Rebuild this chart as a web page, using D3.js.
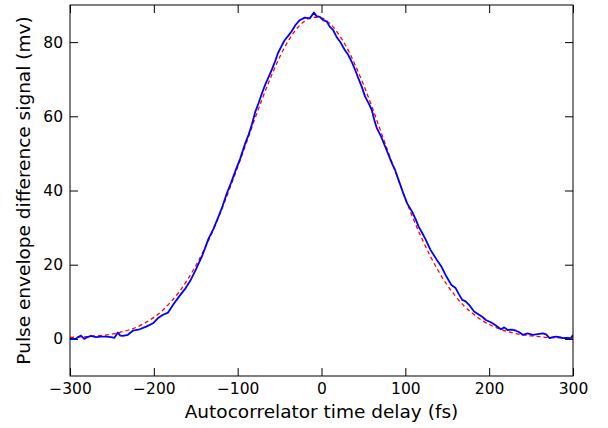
<!DOCTYPE html>
<html>
<head>
<meta charset="utf-8">
<script src="https://cdn.jsdelivr.net/npm/d3@7"></script>
<style>
  body { margin: 0; background: #fff; }
  svg { display: block; font-family: "DejaVu Sans", sans-serif; }
</style>
</head>
<body>
<svg id="chart" width="608" height="428"></svg>
<script>
// Measured signal (blue): delay (fs) and value (mV)
const measDelay = [-300,-297,-293,-287,-283,-279,-275,-269,-263,-257,-251,-247,-243,-240,-237,-231,-225,-217,-209,-201,-195,-189,-183,-177,-170,-162,-156,-150,-142,-138,-135,-129,-123,-118,-113,-108,-103,-97,-91,-87,-83,-79,-75,-71,-67,-63,-59,-55,-52,-48,-44,-40,-36,-31,-26,-20,-14,-9,-6,-2,2,6,10,14,18,23,28,32,36,40,44,48,52,56,60,63,66,71,76,80,84,88,92,97,102,108,112,116,120,124,130,137,143,149,155,160,164,168,172,176,182,188,192,196,200,204,210,214,218,222,227,232,236,240,246,252,258,264,268,272,276,280,284,288,292,296,298,300];
const measValue = [0.0,0.0,0.1,0.9,0.0,0.5,0.8,0.5,0.6,0.6,0.5,0.3,1.7,0.9,0.8,1.1,2.2,2.6,3.3,4.2,5.6,6.5,7.1,9.2,11.4,13.7,15.9,18.6,22.6,25.0,26.9,29.6,32.9,35.8,39.2,42.0,45.1,48.6,52.7,55.0,57.8,61.2,63.6,66.2,68.6,70.6,72.7,75.0,77.0,78.8,80.5,81.6,82.8,84.6,85.9,86.6,86.4,88.0,87.0,86.8,85.9,85.6,84.1,83.2,81.4,79.8,77.8,76.5,74.7,72.6,70.2,68.0,65.3,63.6,61.7,59.0,56.8,54.6,51.8,49.6,47.3,45.4,42.8,39.6,36.6,34.3,32.4,30.2,28.6,26.9,24.0,21.5,19.5,16.8,14.5,13.7,12.0,10.5,10.1,9.2,7.4,6.5,5.9,5.1,4.7,4.2,3.3,2.6,3.1,2.4,2.5,2.2,1.8,1.1,1.5,1.1,1.3,1.5,1.2,0.2,0.5,0.6,0.5,0.2,0.3,0.2,0.3,1.1];

// Fitted curve (red dashed): delay (fs) and value (mV)
const fitDelay = [-300,-290,-280,-270,-260,-250,-240,-230,-220,-210,-200,-190,-180,-170,-160,-150,-140,-130,-120,-110,-100,-90,-80,-70,-60,-50,-40,-30,-20,-10,0,10,20,30,40,50,60,70,80,90,100,110,120,130,140,150,160,170,180,190,200,210,220,230,240,250,260,270,280,290,300];
const fitValue = [0.4,0.5,0.6,0.8,1.0,1.3,1.8,2.4,3.2,4.4,5.8,7.6,9.9,12.6,15.9,19.7,24.0,28.9,34.4,40.2,46.3,52.6,59.0,65.1,70.8,75.9,80.2,83.5,85.7,86.7,86.5,85.0,82.3,78.6,73.9,68.6,62.7,56.4,50.1,43.9,37.8,32.1,26.9,22.2,18.1,14.5,11.5,8.9,6.9,5.2,3.9,2.9,2.1,1.5,1.1,0.8,0.6,0.4,0.3,0.3,0.2];

const xTicks = [-300,-200,-100,0,100,200,300];
const yTicks = [0,20,40,60,80];
const xLabel = "Autocorrelator time delay (fs)";
const yLabel = "Pulse envelope difference signal (mv)";

const svg = d3.select("#chart");
const L = 70, R = 573, T = 5, B = 376;

const x = d3.scaleLinear().domain([-300, 300]).range([L, R]);
const y = d3.scaleLinear().domain([-10, 90]).range([B, T]);

svg.append("defs").append("clipPath").attr("id", "clip")
  .append("rect").attr("x", L).attr("y", T).attr("width", R - L).attr("height", B - T);

const fmt = d => d < 0 ? "\u2212" + Math.abs(d) : String(d);

const styleAxis = g => {
  g.select(".domain").remove();
  g.selectAll(".tick line").attr("stroke", "#000").attr("stroke-width", 1);
  g.selectAll(".tick text").attr("fill", "#000").attr("font-size", "15.5px")
    .attr("font-family", "DejaVu Sans, sans-serif");
};

svg.append("g").attr("transform", `translate(0,${B})`)
  .call(d3.axisBottom(x).tickValues(xTicks).tickFormat(fmt).tickSizeInner(-8).tickSizeOuter(0).tickPadding(7))
  .call(styleAxis);
svg.append("g").attr("transform", `translate(0,${T})`)
  .call(d3.axisTop(x).tickValues(xTicks).tickFormat("").tickSizeInner(-8).tickSizeOuter(0))
  .call(styleAxis);
svg.append("g").attr("transform", `translate(${L},0)`)
  .call(d3.axisLeft(y).tickValues(yTicks).tickFormat(fmt).tickSizeInner(-8).tickSizeOuter(0).tickPadding(7))
  .call(styleAxis);
svg.append("g").attr("transform", `translate(${R},0)`)
  .call(d3.axisRight(y).tickValues(yTicks).tickFormat("").tickSizeInner(-8).tickSizeOuter(0))
  .call(styleAxis);

const fitData = fitDelay.map((d, i) => [d, fitValue[i]]);
const measData = measDelay.map((d, i) => [d, measValue[i]]);

const lineFit = d3.line().x(d => x(d[0])).y(d => y(d[1])).curve(d3.curveMonotoneX);
const lineMeas = d3.line().x(d => x(d[0])).y(d => y(d[1]));

const plot = svg.append("g").attr("clip-path", "url(#clip)");
plot.append("path").datum(fitData).attr("d", lineFit)
  .attr("fill", "none").attr("stroke", "#ff0000").attr("stroke-width", 1.3)
  .attr("stroke-dasharray", "4,3");
plot.append("path").datum(measData).attr("d", lineMeas)
  .attr("fill", "none").attr("stroke", "#0000ff").attr("stroke-width", 1.8)
  .attr("stroke-linejoin", "round");

svg.append("rect").attr("x", L).attr("y", T).attr("width", R - L).attr("height", B - T)
  .attr("fill", "none").attr("stroke", "#000").attr("stroke-width", 1);

svg.append("text").attr("x", (L + R) / 2).attr("y", 418)
  .attr("text-anchor", "middle").attr("font-size", "18.5px").attr("fill", "#000")
  .text(xLabel);

svg.append("text").attr("transform", `translate(24,${(T + B) / 2}) rotate(-90)`)
  .attr("text-anchor", "middle").attr("dy", "0.35em").attr("font-size", "18.5px").attr("fill", "#000")
  .text(yLabel);
</script>
</body>
</html>
